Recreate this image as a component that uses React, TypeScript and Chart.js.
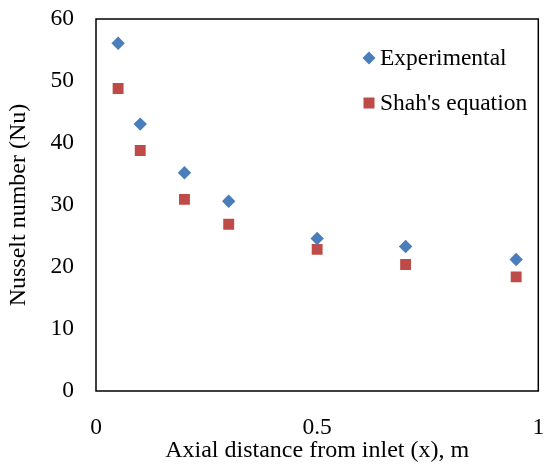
import React, { useEffect, useRef } from "react";
import { Chart, registerables } from "chart.js";

Chart.register(...registerables);

const xPositions = [0.05, 0.1, 0.2, 0.3, 0.5, 0.7, 0.95];
const experimental = [56.1, 43.05, 35.2, 30.6, 24.6, 23.3, 21.2];
const shahEquation = [48.8, 38.8, 30.9, 26.9, 22.85, 20.4, 18.4];
const xTicks = [0, 0.5, 1];
const seriesNames = ["Experimental", "Shah's equation"];

const FONT = "'Liberation Serif', 'Times New Roman', serif";
const BLUE = "#4A7EBB";
const RED = "#BE4B48";

const boxAndLegend = {
  id: "boxAndLegend",
  afterDraw(chart: any) {
    const { ctx, chartArea } = chart;
    ctx.save();
    ctx.strokeStyle = "#000";
    ctx.lineWidth = 1.5;
    ctx.strokeRect(chartArea.left, chartArea.top, chartArea.right - chartArea.left, chartArea.bottom - chartArea.top);
    const items = chart.data.datasets;
    const mx = 369;
    const tx = 380;
    const ys = [58, 103];
    ctx.font = "23.5px " + FONT;
    ctx.textBaseline = "middle";
    ctx.textAlign = "left";
    items.forEach((d: any, i: number) => {
      const y = ys[i];
      ctx.fillStyle = d.backgroundColor;
      ctx.beginPath();
      if (d.pointStyle === "rectRot") {
        const r = 6.5;
        ctx.moveTo(mx - r, y);
        ctx.lineTo(mx, y - r);
        ctx.lineTo(mx + r, y);
        ctx.lineTo(mx, y + r);
        ctx.closePath();
      } else {
        const h = 5.5;
        ctx.rect(mx - h, y - h, 2 * h, 2 * h);
      }
      ctx.fill();
      ctx.fillStyle = "#000";
      ctx.fillText(d.label, tx, y + 1);
    });
    ctx.restore();
  },
};

const zeroPad = (s: any) => {
  s.paddingLeft = 0;
  s.paddingRight = 0;
  s.paddingTop = 0;
  s.paddingBottom = 0;
};

export default function App() {
  const ref = useRef<HTMLCanvasElement>(null);
  useEffect(() => {
    document.body.style.margin = "0";
    const chart = new Chart(ref.current!, {
      type: "scatter",
      data: {
        datasets: [
          {
            label: seriesNames[0],
            data: xPositions.map((x, i) => ({ x, y: experimental[i] })),
            pointStyle: "rectRot",
            pointRadius: 6.7,
            backgroundColor: BLUE,
            borderColor: BLUE,
            borderWidth: 0,
          },
          {
            label: seriesNames[1],
            data: xPositions.map((x, i) => ({ x, y: shahEquation[i] })),
            pointStyle: "rect",
            pointRadius: 7.7,
            backgroundColor: RED,
            borderColor: RED,
            borderWidth: 0,
          },
        ],
      },
      options: {
        animation: false,
        responsive: false,
        maintainAspectRatio: false,
        layout: { padding: { top: 19, right: 3, left: 0, bottom: 0 } },
        plugins: { legend: { display: false }, tooltip: { enabled: false } },
        scales: {
          x: {
            type: "linear",
            min: 0,
            max: 1,
            afterBuildTicks: (s: any) => {
              s.ticks = xTicks.map((v) => ({ value: v }));
            },
            afterFit: (s: any) => {
              s.height = 77;
              zeroPad(s);
            },
            grid: { display: false, drawTicks: false },
            border: { display: false },
            ticks: {
              color: "#000",
              padding: 23,
              font: { family: FONT, size: 23.5 },
              maxRotation: 0,
              callback: (v: any) => String(v),
            },
            title: {
              display: true,
              text: "Axial distance from inlet (x), m",
              color: "#000",
              font: { family: FONT, size: 24 },
              padding: { top: 0, bottom: 2.7 },
            },
          },
          y: {
            min: 0,
            max: 60,
            afterFit: (s: any) => {
              s.width = 96;
              zeroPad(s);
            },
            grid: { display: false, drawTicks: false },
            border: { display: false },
            ticks: {
              stepSize: 10,
              color: "#000",
              padding: 22,
              font: { family: FONT, size: 23.5 },
            },
            title: {
              display: true,
              text: "Nusselt number (Nu)",
              color: "#000",
              font: { family: FONT, size: 24 },
              padding: { top: 4.5, bottom: 0 },
            },
          },
        },
      },
      plugins: [boxAndLegend],
    });
    return () => chart.destroy();
  }, []);
  return (
    <div style={{ position: "absolute", left: 0, top: 0, width: 546, height: 468, background: "#fff" }}>
      <canvas ref={ref} width={546} height={468} style={{ display: "block" }} />
    </div>
  );
}
